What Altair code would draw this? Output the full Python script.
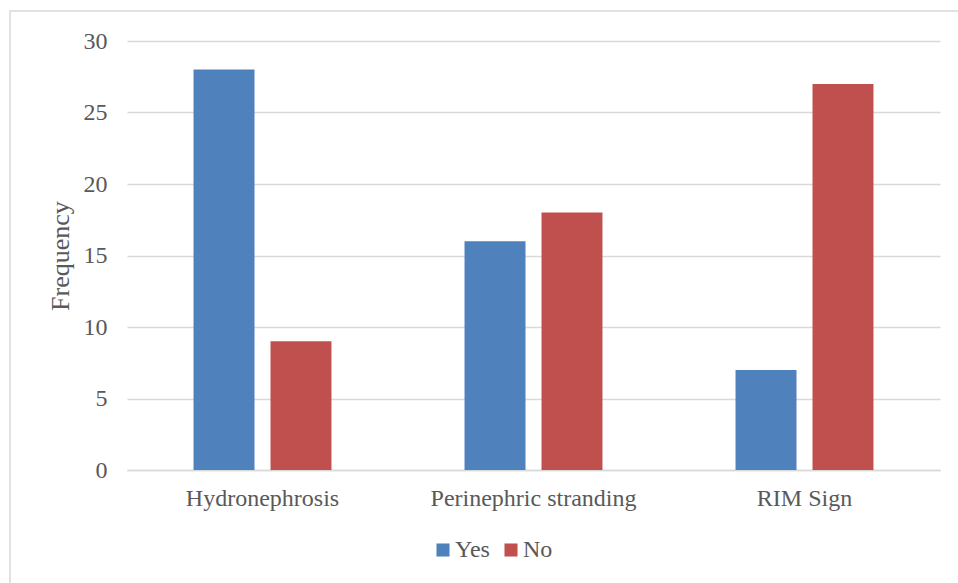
import altair as alt
import pandas as pd

categories = ["Hydronephrosis", "Perinephric stranding", "RIM Sign"]
yes_values = [28, 16, 7]
no_values = [9, 18, 27]
series = ["Yes", "No"]
colors = ["#4F81BD", "#C0504D"]

rows = []
for c, y, n in zip(categories, yes_values, no_values):
    rows.append({"category": c, "series": "Yes", "value": y})
    rows.append({"category": c, "series": "No", "value": n})
df = pd.DataFrame(rows)

FONT = "Liberation Serif"
TXT = "#595959"

bars = alt.Chart(df).mark_bar().encode(
    x=alt.X("category:N", sort=categories,
            scale=alt.Scale(paddingInner=0.491, paddingOuter=0.2455),
            axis=alt.Axis(title=None, labelAngle=0, ticks=False, domain=True,
                          domainColor="#D9D9D9", domainWidth=1.5,
                          labelFont=FONT, labelFontSize=24, labelColor=TXT,
                          labelPadding=16, labelLimit=1000, grid=False)),
    xOffset=alt.XOffset("series:N", sort=series,
                        scale=alt.Scale(paddingInner=0.208, paddingOuter=0)),
    y=alt.Y("value:Q", scale=alt.Scale(domain=[0, 30]),
            axis=alt.Axis(title="Frequency", values=[0, 5, 10, 15, 20, 25, 30],
                          domain=False, ticks=False, grid=True,
                          gridColor="#D9D9D9", gridWidth=1.5,
                          labelFont=FONT, labelFontSize=24, labelColor=TXT,
                          labelPadding=20, titleFont=FONT, titleFontSize=26,
                          titleColor=TXT, titleFontWeight="normal",
                          titlePadding=10)),
    color=alt.Color("series:N", sort=series,
                    scale=alt.Scale(domain=series, range=colors),
                    legend=alt.Legend(title=None, orient="none", direction="horizontal",
                                      legendX=304, legendY=497,
                                      symbolType="square", symbolSize=170,
                                      symbolStrokeWidth=0,
                                      labelFont=FONT, labelFontSize=24,
                                      labelColor=TXT, columnPadding=9,
                                      labelOffset=0)),
)

frame = alt.Chart(pd.DataFrame({"a": [0]})).mark_rect(
    fill=None, stroke="#D9D9D9", strokeWidth=1.5
).encode(
    x=alt.value(-117), x2=alt.value(845),
    y=alt.value(-30), y2=alt.value(560),
)

chart = alt.layer(frame, bars).properties(
    width=813, height=429,
    autosize=alt.AutoSizeParams(type="none"),
    padding={"left": 127, "top": 41, "right": 18, "bottom": 113},
    background="white",
).configure_view(stroke=None)

chart.save("out.html", embed_options={"renderer": "svg", "actions": False})
